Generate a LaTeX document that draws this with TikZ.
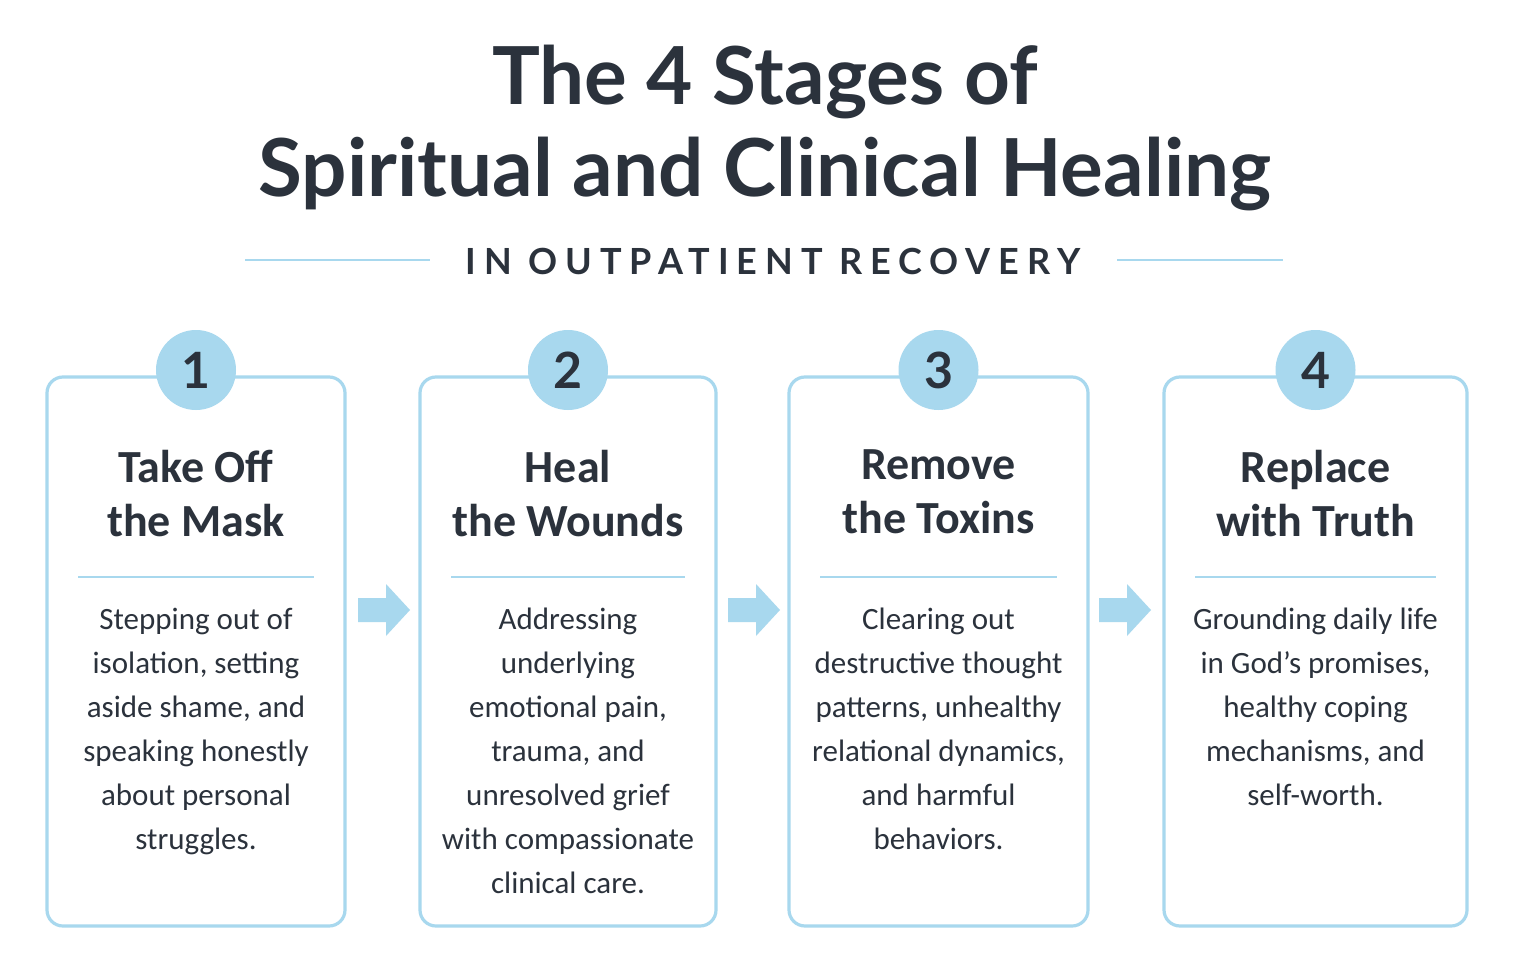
\documentclass[tikz,border=0pt]{standalone}
\usepackage{fontspec}
\setmainfont{Carlito}
\newfontfamily\titlefont{Lato}
\newfontfamily\subfont[LetterSpace=22]{Lato}
\definecolor{lblue}{HTML}{A8D8EE}
\definecolor{dark}{HTML}{2B323C}
\begin{document}
\begin{tikzpicture}[x=0.5pt,y=-0.5pt,
  box/.style={draw=lblue,line width=1.6pt,rounded corners=8pt,fill=white},
  num/.style={circle,fill=lblue,minimum size=40pt,inner sep=0pt,text=dark,font=\titlefont\bfseries\fontsize{25}{25}\selectfont},
  head/.style={text=dark,align=center,font=\bfseries\fontsize{23}{27}\selectfont},
  body/.style={text=dark,align=center,font=\fontsize{15.5}{22}\selectfont},
  sep/.style={draw=lblue,line width=1.3pt},
  arr/.style={fill=lblue,draw=none}]
\useasboundingbox[fill=white] (0,0) rectangle (1514,973);
\node[text=dark,align=center,font=\titlefont\bfseries\fontsize{40}{46}\selectfont] (title) at (765,128) {The 4 Stages of\\Spiritual and Clinical Healing};
\node[text=dark,font=\subfont\bfseries\fontsize{18}{20}\selectfont] (sub) at (773,261) {IN OUTPATIENT RECOVERY};
\draw[sep] (245,260) -- (430,260);
\draw[sep] (1117,260) -- (1283,260);
\foreach \i/\xl/\xr/\h/\b in {
 1/47/345/{Take Off\\the Mask}/{Stepping out of\\isolation, setting\\aside shame, and\\speaking honestly\\about personal\\struggles.},
 2/420/716/{Heal\\the Wounds}/{Addressing\\underlying\\emotional pain,\\trauma, and\\unresolved grief\\with compassionate\\clinical care.},
 3/789/1088/{Remove\\the Toxins}/{Clearing out\\destructive thought\\patterns, unhealthy\\relational dynamics,\\and harmful\\behaviors.},
 4/1164/1467/{Replace\\with Truth}/{Grounding daily life\\in God's promises,\\healthy coping\\mechanisms, and\\self-worth.}}{
  \pgfmathsetmacro{\cx}{(\xl+\xr)/2}
  \draw[box] (\xl,377) rectangle (\xr,926);
  \node[num] (n\i) at (\cx,370) {\i};
  \node[head,anchor=north] (h\i) at (\cx,443) {\h};
  \draw[sep] (\xl+31,577) -- (\xr-31,577);
  \node[body,anchor=north] (b\i) at (\cx,601) {\b};
}
\foreach \x in {358,728,1099}{
  \fill[arr] (\x,598) -- (\x+28,598) -- (\x+28,584) -- (\x+52,610) -- (\x+28,636) -- (\x+28,622) -- (\x,622) -- cycle;
}
\end{tikzpicture}
\end{document}
